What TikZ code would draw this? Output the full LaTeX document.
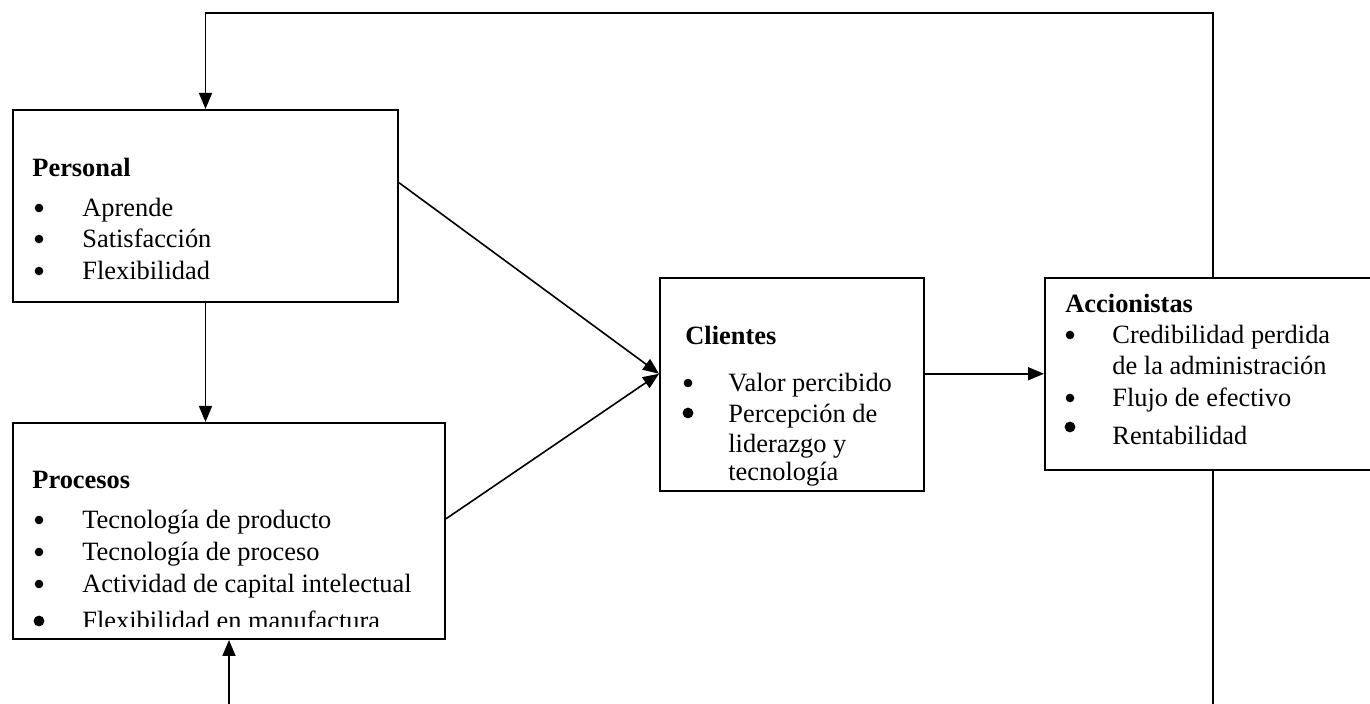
\documentclass[tikz,border=0pt]{standalone}
\usepackage{fontspec}
\setmainfont{Liberation Serif}
\usetikzlibrary{arrows.meta,positioning,calc}

\begin{document}
\begin{tikzpicture}[
    x=0.5pt, y=-0.5pt,
    >={Triangle[length=8pt,width=6.5pt]},
    box/.style={draw, line width=1pt, anchor=north west, inner sep=0pt},
    boxtitle/.style={anchor=base west, inner sep=0pt, font=\fontsize{13.2}{16}\selectfont\bfseries},
    item/.style={anchor=base west, inner sep=0pt, font=\fontsize{13.2}{16}\selectfont},
    bullet/.style={circle, fill, inner sep=0pt, minimum size=4.3pt},
    bigbullet/.style={circle, fill, inner sep=0pt, minimum size=5.4pt},
    link/.style={line width=0.8pt}
]

\useasboundingbox (0,0) rectangle (1370,704);
\clip (0,0) rectangle (1370,704);

% the four boxes
\node[box, minimum width=192.5pt, minimum height=96pt] (personal) at (12,109) {};
\node[box, minimum width=216pt, minimum height=108pt] (procesos) at (12,422) {};
\node[box, minimum width=132pt, minimum height=106.5pt] (clientes) at (659,277) {};
\node[box, minimum width=180pt, minimum height=96pt] (accionistas) at (1044,277) {};

% Personal
\node[boxtitle] (personal-t) at (32,177) {Personal};
\foreach \yy/\txt [count=\i] in {217/Aprende, 248/Satisfacción, 280/Flexibilidad} {
    \node[bullet] (personal-b\i) at (39,\yy-9) {};
    \node[item] (personal-i\i) at (82,\yy) {\txt};
}

% Procesos - last line is cut by the box
\begin{scope}
    \clip (12,422) rectangle (444,627);
    \node[boxtitle] (procesos-t) at (32,489) {Procesos};
    \foreach \yy/\txt [count=\i] in {529/Tecnología de producto, 561/Tecnología de proceso, 593/Actividad de capital intelectual} {
        \node[bullet] (procesos-b\i) at (39,\yy-9) {};
        \node[item] (procesos-i\i) at (82,\yy) {\txt};
    }
    \node[bigbullet] (procesos-b4) at (39,621) {};
    \node[item] (procesos-i4) at (82,630) {Flexibilidad en manufactura};
\end{scope}

% Clientes
\node[boxtitle] (clientes-t) at (685,345) {Clientes};
\node[bullet] (clientes-b1) at (688,383) {};
\node[item] (clientes-i1) at (728,392) {Valor percibido};
\node[bigbullet] (clientes-b2) at (688,413) {};
\node[item] (clientes-i2) at (728,423) {Percepción de};
\node[item] (clientes-i3) at (728,453) {liderazgo y};
\node[item] (clientes-i4) at (728,481) {tecnología};

% Accionistas
\node[boxtitle] (accionistas-t) at (1065,313) {Accionistas};
\node[bullet] (accionistas-b1) at (1070,335) {};
\node[item] (accionistas-i1) at (1112,344) {Credibilidad perdida};
\node[item] (accionistas-i2) at (1112,375) {de la administración};
\node[bullet] (accionistas-b3) at (1070,398) {};
\node[item] (accionistas-i3) at (1112,407) {Flujo de efectivo};
\node[bigbullet] (accionistas-b4) at (1070,427) {};
\node[item] (accionistas-i4) at (1112,445) {Rentabilidad};

% connectors
\coordinate (loopR) at (1213,13);
\coordinate (loopB) at (1213,712);
\coordinate (pout) at ($(personal.north east)!0.38!(personal.south east)$);
\coordinate (rout) at ($(procesos.north east)!0.444!(procesos.south east)$);
\coordinate (cin) at ($(clientes.north west)!0.45!(clientes.south west)$);

\draw[link,->] (loopR |- accionistas.north) -- (loopR) -- (personal.north |- loopR) -- (personal.north);
\draw[link] (loopR |- accionistas.south) -- (loopB);
\draw[link,->] (procesos.south |- loopB) -- (procesos.south);
\draw[link,->] (personal.south) -- (personal.south |- procesos.north);
\draw[link,->] (pout) -- (cin);
\draw[link,->] (rout) -- (cin);
\draw[link,->] (clientes.east |- cin) -- (accionistas.west |- cin);

\end{tikzpicture}
\end{document}
